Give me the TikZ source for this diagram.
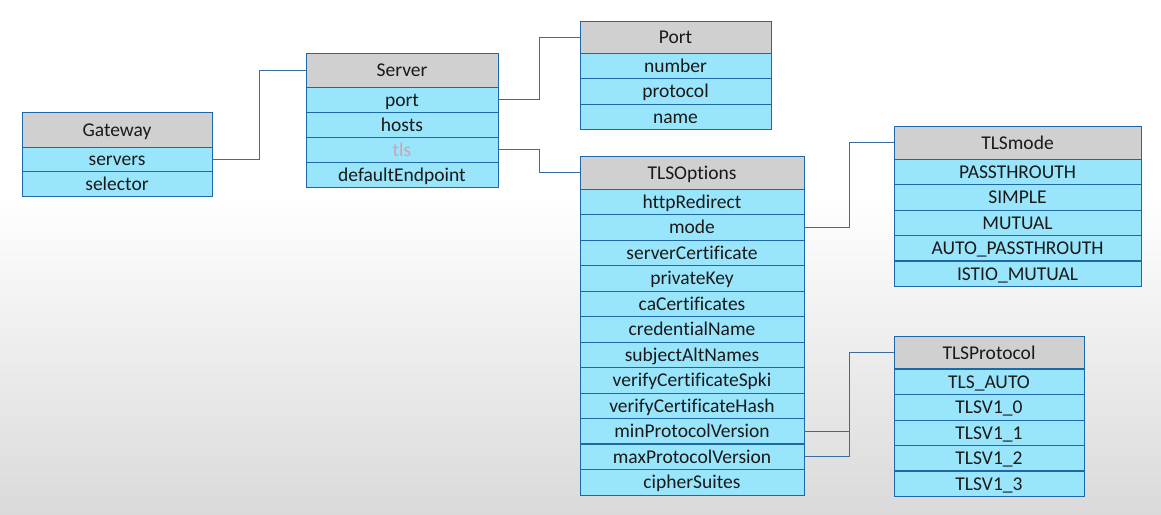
\documentclass[tikz,border=0pt]{standalone}
\usepackage{fontspec}
\setmainfont{Carlito}[RawFeature={-liga;-clig;-dlig}]
\usetikzlibrary{positioning}

\definecolor{rowcyan}{RGB}{153,230,252}
\definecolor{headgray}{RGB}{208,208,208}
\definecolor{boxblue}{RGB}{31,104,168}
\definecolor{linkblue}{RGB}{58,108,160}
\definecolor{tlspink}{RGB}{214,160,170}
\definecolor{bggray}{RGB}{218,218,218}

\tikzset{
    cell/.style={draw=boxblue, line width=1pt, inner sep=0pt, outer sep=0pt,
        minimum width=#1, text height=17pt, text depth=4pt,
        font=\fontsize{19.5}{22}\selectfont, text=black!90},
    head/.style={cell=#1, fill=headgray, minimum height=34pt},
    field/.style={cell=#1, fill=rowcyan, minimum height=25.5pt},
    link/.style={draw=linkblue, line width=0.9pt},
}

\begin{document}
\begin{tikzpicture}[x=1pt, y=-1pt]
        % background
        \fill[white] (0, 0) rectangle (1161, 514);
        \shade[top color=white, bottom color=bggray] (0, 195) rectangle (1161, 514);
        \useasboundingbox (0, 0) rectangle (1161, 514);

        % Gateway
        \node[head=190pt, anchor=north west, minimum height=35pt] (gw) at (22, 112) {Gateway};
        \node[field=190pt, minimum height=24.5pt, below=0pt of gw] (gw-servers) {servers};
        \node[field=190pt, minimum height=24.5pt, below=0pt of gw-servers] (gw-selector) {selector};

        % Server
        \node[head=192pt, anchor=north west] (srv) at (306, 53) {Server};
        \node[field=192pt, minimum height=25pt, below=0pt of srv] (srv-port) {port};
        \node[field=192pt, minimum height=25pt, below=0pt of srv-port] (srv-hosts) {hosts};
        \node[field=192pt, minimum height=25pt, below=0pt of srv-hosts, text=tlspink] (srv-tls) {tls};
        \node[field=192pt, minimum height=25pt, below=0pt of srv-tls] (srv-endpoint) {defaultEndpoint};

        % Port
        \node[head=191pt, anchor=north west, minimum height=32pt] (port) at (580, 21) {Port};
        \node[field=191pt, below=0pt of port] (port-number) {number};
        \node[field=191pt, below=0pt of port-number] (port-protocol) {protocol};
        \node[field=191pt, below=0pt of port-protocol] (port-name) {name};

        % TLSOptions
        \node[head=224pt, anchor=north west, minimum height=33pt] (tlo) at (580, 156) {TLSOptions};
        \node[field=224pt, below=0pt of tlo] (tlo-redirect) {httpRedirect};
        \node[field=224pt, below=0pt of tlo-redirect] (tlo-mode) {mode};
        \node[field=224pt, below=0pt of tlo-mode] (tlo-cert) {serverCertificate};
        \node[field=224pt, below=0pt of tlo-cert] (tlo-key) {privateKey};
        \node[field=224pt, below=0pt of tlo-key] (tlo-ca) {caCertificates};
        \node[field=224pt, below=0pt of tlo-ca] (tlo-cred) {credentialName};
        \node[field=224pt, below=0pt of tlo-cred] (tlo-alt) {subjectAltNames};
        \node[field=224pt, below=0pt of tlo-alt] (tlo-spki) {verifyCertificateSpki};
        \node[field=224pt, below=0pt of tlo-spki] (tlo-hash) {verifyCertificateHash};
        \node[field=224pt, below=0pt of tlo-hash] (tlo-min) {minProtocolVersion};
        \node[field=224pt, below=0pt of tlo-min] (tlo-max) {maxProtocolVersion};
        \node[field=224pt, below=0pt of tlo-max] (tlo-cipher) {cipherSuites};
        \draw[boxblue, line width=2pt] (tlo-min.south west) -- (tlo-min.south east);

        % TLSmode
        \node[head=247pt, anchor=north west, minimum height=33pt] (mode) at (894, 126) {TLSmode};
        \node[field=247pt, below=0pt of mode] (mode-pass) {PASSTHROUTH};
        \node[field=247pt, below=0pt of mode-pass] (mode-simple) {SIMPLE};
        \node[field=247pt, below=0pt of mode-simple] (mode-mutual) {MUTUAL};
        \node[field=247pt, below=0pt of mode-mutual] (mode-auto) {AUTO\_PASSTHROUTH};
        \node[field=247pt, below=0pt of mode-auto] (mode-istio) {ISTIO\_MUTUAL};
        \draw[boxblue, line width=2pt] (mode-auto.south west) -- (mode-auto.south east);

        % TLSProtocol
        \node[head=190pt, anchor=north west, minimum height=33pt] (tlp) at (894, 336) {TLSProtocol};
        \node[field=190pt, below=0pt of tlp] (tlp-auto) {TLS\_AUTO};
        \node[field=190pt, below=0pt of tlp-auto] (tlp-v10) {TLSV1\_0};
        \node[field=190pt, below=0pt of tlp-v10] (tlp-v11) {TLSV1\_1};
        \node[field=190pt, below=0pt of tlp-v11] (tlp-v12) {TLSV1\_2};
        \node[field=190pt, below=0pt of tlp-v12] (tlp-v13) {TLSV1\_3};
        \draw[boxblue, line width=2pt] (tlp.south west) -- (tlp.south east);
        \draw[boxblue, line width=2pt] (tlp-v12.south west) -- (tlp-v12.south east);

        % links
        \draw[link] (gw-servers.east) -- ++(47, 0) |- (srv.west);
        \draw[link] (srv-port.east) -- ++(41, 0) |- (port.west);
        \draw[link] (srv-tls.east) -- ++(41, 0) |- (tlo.west);
        \draw[link] (tlo-mode.east) -- ++(45, 0) |- (mode.west);
        \draw[link] (tlo-min.east) -- ++(45, 0) |- (tlp.west);
        \draw[link] (tlo-max.east) -- ++(45, 0) |- (tlp.west);
    \end{tikzpicture}
\end{document}
